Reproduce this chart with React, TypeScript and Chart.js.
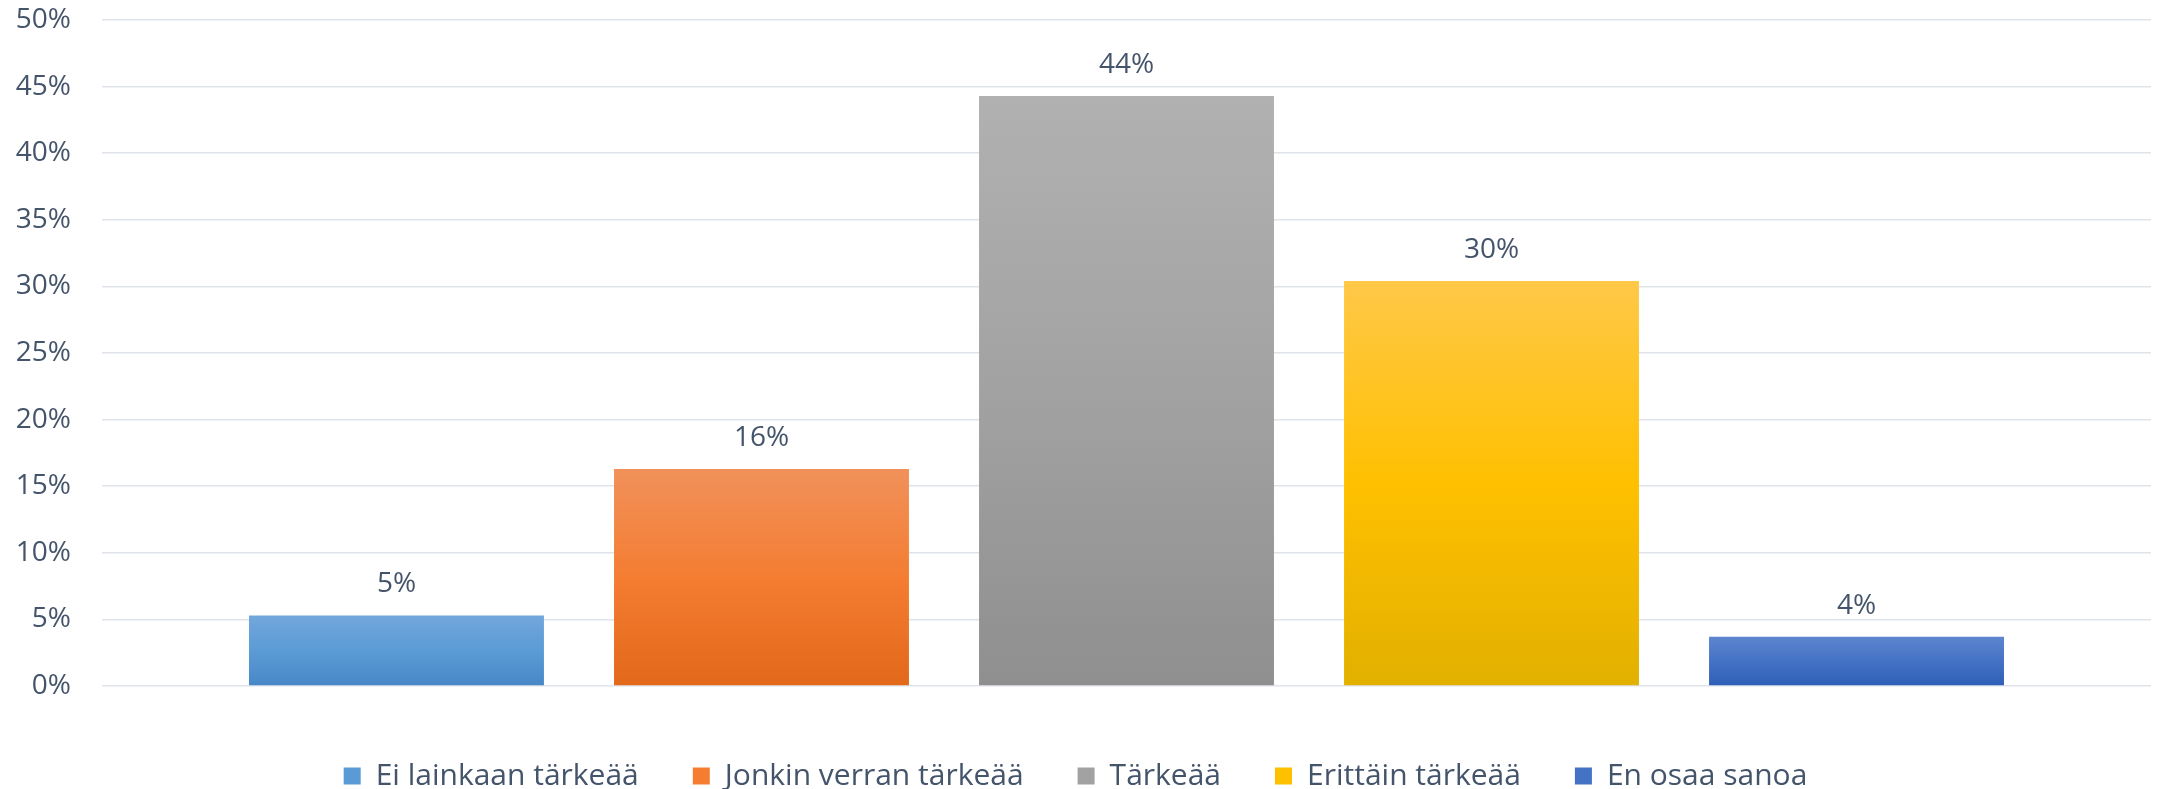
import React, { useEffect, useRef } from "react";
import { Chart, registerables } from "chart.js";

Chart.register(...registerables);

const categories = [""];
const seriesNames = [
  "Ei lainkaan tärkeää",
  "Jonkin verran tärkeää",
  "Tärkeää",
  "Erittäin tärkeää",
  "En osaa sanoa",
];
const seriesValues = [5.3, 16.3, 44.3, 30.4, 3.7];
const gradientTop = ["#72A7DC", "#F1915A", "#B1B1B1", "#FFC848", "#5D85CF"];
const gradientMid = ["#5B9BD5", "#F47D32", "#A2A2A2", "#FFC000", "#4472C4"];
const gradientBottom = ["#4787C7", "#E2681A", "#8F8F8F", "#E2B000", "#2E5EB7"];
const yTicks = [0, 5, 10, 15, 20, 25, 30, 35, 40, 45, 50];

const FONT = "'Open Sans', sans-serif";
const TEXT = "#44546A";

const dataLabelPlugin = {
  id: "dataLabels",
  afterDatasetsDraw(chart: any) {
    const ctx = chart.ctx;
    ctx.save();
    ctx.font = `28px ${FONT}`;
    ctx.fillStyle = TEXT;
    ctx.textAlign = "center";
    ctx.textBaseline = "middle";
    chart.data.datasets.forEach((ds: any, i: number) => {
      const meta = chart.getDatasetMeta(i);
      meta.data.forEach((bar: any, j: number) => {
        const v = ds.data[j];
        ctx.fillText(Math.round(v) + "%", bar.x, bar.y - 31);
      });
    });
    ctx.restore();
  },
};

const legendShiftPlugin = {
  id: "legendShift",
  afterLayout(chart: any) {
    const lg = chart.legend;
    if (lg) {
      lg.top += 21;
      lg.bottom += 21;
    }
  },
};

export default function App() {
  const ref = useRef<HTMLCanvasElement | null>(null);
  useEffect(() => {
    if (!ref.current) return;
    const datasets = seriesNames.map((name, i) => ({
      label: name,
      data: [seriesValues[i]],
      backgroundColor: (c: any) => {
        const chart = c.chart;
        const y = chart.scales?.y;
        if (!y || c.dataIndex === undefined) return gradientMid[i];
        const top = y.getPixelForValue(seriesValues[i]);
        const bottom = y.getPixelForValue(0);
        const g = chart.ctx.createLinearGradient(0, top, 0, bottom);
        g.addColorStop(0, gradientTop[i]);
        g.addColorStop(0.5, gradientMid[i]);
        g.addColorStop(1, gradientBottom[i]);
        return g;
      },
      borderWidth: 0,
      categoryPercentage: 0.8907,
      barPercentage: 0.808,
    }));
    const chart = new Chart(ref.current, {
      type: "bar",
      data: { labels: categories, datasets },
      plugins: [dataLabelPlugin, legendShiftPlugin],
      options: {
        animation: false,
        responsive: true,
        maintainAspectRatio: false,
        layout: { padding: { top: 20, right: 9, left: 0, bottom: 9 } },
        scales: {
          x: { display: false },
          y: {
            min: 0,
            max: 50,
            afterBuildTicks: (scale: any) => {
              scale.ticks = yTicks.map((v) => ({ value: v }));
            },
            afterFit: (scale: any) => {
              scale.width = 102;
              scale.paddingTop = 0;
              scale.paddingBottom = 0;
            },
            border: { display: false },
            grid: { color: "#DFE3EA", lineWidth: 1.5, drawTicks: false },
            ticks: {
              padding: 31,
              color: TEXT,
              font: { family: FONT, size: 28 },
              callback: (v: any) => v + "%",
            },
          },
        },
        plugins: {
          tooltip: { enabled: false },
          legend: {
            position: "bottom",
            labels: {
              boxWidth: 17,
              boxHeight: 17,
              padding: 54,
              color: TEXT,
              font: { family: FONT, size: 30 },
              generateLabels: () =>
                seriesNames.map((n, i) => ({
                  text: n,
                  fillStyle: gradientMid[i],
                  strokeStyle: gradientMid[i],
                  lineWidth: 0,
                  fontColor: TEXT,
                  datasetIndex: i,
                  hidden: false,
                })),
            },
          },
        },
      },
    });
    return () => chart.destroy();
  }, []);
  return (
    <div style={{ position: "absolute", left: 0, top: 0, width: 2160, height: 789 }}>
      <canvas ref={ref} />
    </div>
  );
}
